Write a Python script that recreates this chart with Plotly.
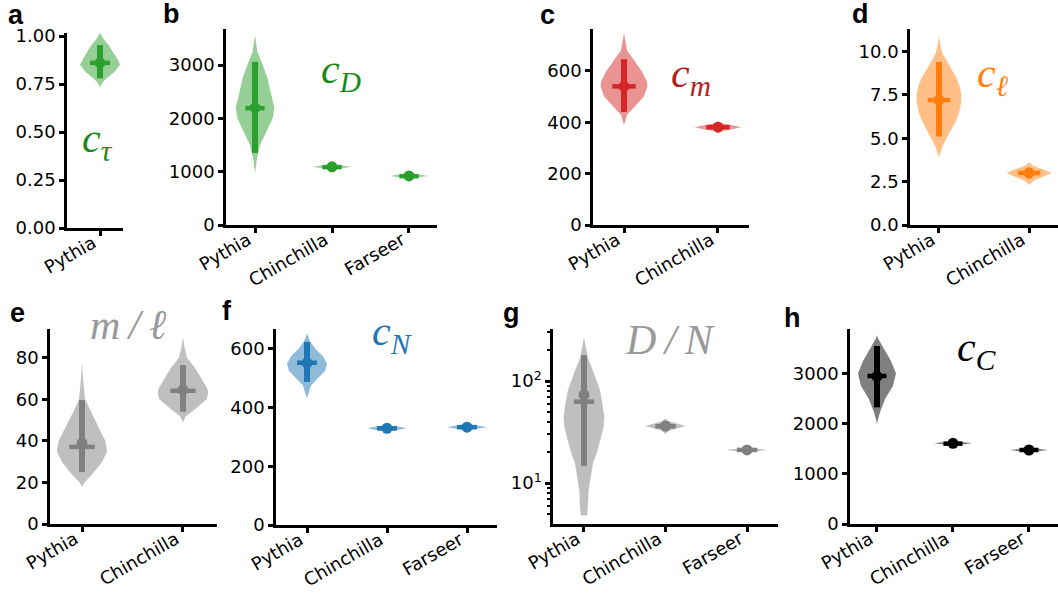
import plotly.graph_objects as go

W, H = 1058, 596

# ---------------- data ----------------
cats3 = ["Pythia", "Chinchilla", "Farseer"]
cats2 = ["Pythia", "Chinchilla"]
cats1 = ["Pythia"]

# violin profiles: value levels and relative half-width (0..1)
a_pythia_lv = [0.73, 0.755, 0.78, 0.815, 0.85, 0.875, 0.90, 0.93, 0.955, 0.98, 1.015]
a_pythia_w = [0, 0.1, 0.33, 0.75, 1.0, 0.9, 0.75, 0.58, 0.42, 0.2, 0]
a_mean = [0.86]; a_median = [0.86]; a_lo = [0.78]; a_hi = [0.953]

b_pythia_lv = [975, 1250, 1500, 1750, 2000, 2200, 2500, 2750, 3000, 3250, 3560]
b_pythia_w = [0, 0.1, 0.26, 0.58, 0.92, 1.0, 0.8, 0.65, 0.4, 0.12, 0]
b_chin_lv = [1025, 1047, 1068, 1090, 1112, 1133, 1155]
b_chin_w = [0, 0.15, 0.6, 1, 0.6, 0.15, 0]
b_fars_lv = [855, 877, 898, 920, 942, 963, 985]
b_fars_w = [0, 0.15, 0.6, 1, 0.6, 0.15, 0]
b_mean = [2200, 1090, 920]; b_median = [2190, 1085, 915]
b_lo = [1350, 1070, 905]; b_hi = [3060, 1110, 935]

c_pythia_lv = [390, 430, 460, 500, 540, 560, 600, 640, 680, 748]
c_pythia_w = [0, 0.13, 0.44, 0.84, 1.0, 0.97, 0.75, 0.44, 0.13, 0]
c_chin_lv = [358, 366, 373, 381, 389, 396, 404]
c_chin_w = [0, 0.15, 0.6, 1, 0.6, 0.15, 0]
c_mean = [540, 381]; c_median = [540, 381]; c_lo = [440, 373]; c_hi = [646, 389]

d_pythia_lv = [3.9, 4.5, 5.0, 5.5, 6.0, 6.5, 7.0, 7.5, 8.0, 8.5, 9.0, 9.4, 9.9, 10.3, 10.9]
d_pythia_w = [0, 0.15, 0.33, 0.55, 0.75, 0.9, 0.98, 1.0, 0.92, 0.77, 0.55, 0.35, 0.15, 0.07, 0]
d_chin_lv = [2.3, 2.55, 2.8, 3.0, 3.2, 3.4, 3.6]
d_chin_w = [0, 0.2, 0.65, 1, 0.65, 0.2, 0]
d_mean = [7.2, 3.0]; d_median = [7.2, 3.0]; d_lo = [5.1, 2.7]; d_hi = [9.4, 3.3]

e_pythia_lv = [17.9, 20, 25, 30, 35, 40, 45, 50, 55, 60, 70, 78]
e_pythia_w = [0, 0.1, 0.48, 0.8, 1.0, 0.92, 0.72, 0.52, 0.3, 0.12, 0.04, 0]
e_chin_lv = [49, 52, 55, 60, 63, 65, 70, 75, 80, 85, 90]
e_chin_w = [0, 0.12, 0.45, 0.94, 1.0, 0.97, 0.73, 0.48, 0.16, 0.06, 0]
e_mean = [38.9, 64.5]; e_median = [37.1, 64.1]; e_lo = [25, 54]; e_hi = [59.6, 76.4]

f_pythia_lv = [431, 450, 475, 500, 525, 550, 575, 600, 625, 652]
f_pythia_w = [0, 0.1, 0.2, 0.56, 0.91, 1.0, 0.79, 0.42, 0.15, 0]
f_chin_lv = [314, 319, 324, 329, 334, 339, 344]
f_chin_w = [0, 0.15, 0.6, 1, 0.6, 0.15, 0]
f_fars_lv = [318, 323, 328, 333, 338, 343, 348]
f_fars_w = [0, 0.15, 0.6, 1, 0.6, 0.15, 0]
f_mean = [552, 329, 333]; f_median = [552, 329, 333]; f_lo = [487, 324, 328]; f_hi = [623, 334, 338]

g_pythia_lv = [4.8, 6, 8.5, 11, 15.6, 20, 26.5, 35, 45, 60, 81, 119, 173, 220, 272]
g_pythia_w = [0.16, 0.2, 0.23, 0.32, 0.44, 0.64, 0.82, 0.96, 1.0, 0.91, 0.79, 0.49, 0.18, 0.08, 0]
g_chin_lv = [30, 32.5, 34.5, 36.2, 38, 40.5, 43]
g_chin_w = [0, 0.15, 0.6, 1, 0.6, 0.15, 0]
g_fars_lv = [19.3, 20, 20.6, 21.1, 21.6, 22.2, 23]
g_fars_w = [0, 0.15, 0.6, 1, 0.6, 0.15, 0]
g_mean = [73, 36.2, 21.1]; g_median = [62.7, 36.0, 21.1]; g_lo = [14.7, 34.5, 20.6]; g_hi = [180, 38, 21.6]

h_pythia_lv = [1972, 2050, 2250, 2500, 2750, 3000, 3250, 3500, 3700, 3764]
h_pythia_w = [0, 0.03, 0.18, 0.44, 0.84, 1.0, 0.73, 0.35, 0.05, 0]
h_chin_lv = [1550, 1570, 1590, 1608, 1626, 1646, 1666]
h_chin_w = [0, 0.15, 0.6, 1, 0.6, 0.15, 0]
h_fars_lv = [1416, 1436, 1456, 1474, 1492, 1512, 1532]
h_fars_w = [0, 0.15, 0.6, 1, 0.6, 0.15, 0]
h_mean = [2940, 1608, 1474]; h_median = [2948, 1600, 1474]; h_lo = [2324, 1590, 1456]; h_hi = [3546, 1626, 1492]

# ---------------- styling ----------------
GREEN, RED, ORANGE, BLUE, GRAY, BLACK = "#2ca02c", "#d62728", "#ff7f0e", "#1f77b4", "#808080", "#000000"
FILLS = {GREEN: "rgba(44,160,44,0.5)", RED: "rgba(214,39,40,0.5)", ORANGE: "rgba(255,127,14,0.5)",
         BLUE: "rgba(31,119,180,0.5)", GRAY: "rgba(128,128,128,0.5)", BLACK: "rgba(0,0,0,0.5)"}

panels = [
    dict(k="a", box=(67, 123, 33, 228), xr=[-0.4125, 0.2875], yr=[0, 1.0156], log=False, cats=cats1,
         v=[(a_pythia_lv, a_pythia_w)], s=(a_mean, a_median, a_lo, a_hi), col=GREEN,
         tv=[0, 0.25, 0.5, 0.75, 1.0], tf=".2f"),
    dict(k="b", box=(226, 437, 29, 225), xr=[-0.377, 2.364], yr=[0, 3675], log=False, cats=cats3,
         v=[(b_pythia_lv, b_pythia_w), (b_chin_lv, b_chin_w), (b_fars_lv, b_fars_w)],
         s=(b_mean, b_median, b_lo, b_hi), col=GREEN, tv=[0, 1000, 2000, 3000], tf="d"),
    dict(k="c", box=(593, 749, 29, 225), xr=[-0.33, 1.33], yr=[0, 763.6], log=False, cats=cats2,
         v=[(c_pythia_lv, c_pythia_w), (c_chin_lv, c_chin_w)],
         s=(c_mean, c_median, c_lo, c_hi), col=RED, tv=[0, 200, 400, 600], tf="d"),
    dict(k="d", box=(910, 1058, 29, 225), xr=[-0.322, 1.322], yr=[0, 11.3], log=False, cats=cats2,
         v=[(d_pythia_lv, d_pythia_w), (d_chin_lv, d_chin_w)],
         s=(d_mean, d_median, d_lo, d_hi), col=ORANGE, tv=[0, 2.5, 5, 7.5, 10], tf=".1f"),
    dict(k="e", box=(50, 217, 329, 524), xr=[-0.317, 1.337], yr=[0, 93.8], log=False, cats=cats2,
         v=[(e_pythia_lv, e_pythia_w), (e_chin_lv, e_chin_w)],
         s=(e_mean, e_median, e_lo, e_hi), col=GRAY, tv=[0, 20, 40, 60, 80], tf="d"),
    dict(k="f", box=(276, 497, 329, 525), xr=[-0.3875, 2.375], yr=[0, 667], log=False, cats=cats3,
         v=[(f_pythia_lv, f_pythia_w), (f_chin_lv, f_chin_w), (f_fars_lv, f_fars_w)],
         s=(f_mean, f_median, f_lo, f_hi), col=BLUE, tv=[0, 200, 400, 600], tf="d"),
    dict(k="g", box=(553, 778, 329, 524), xr=[-0.38, 2.38], yr=[0.598, 2.51], log=True, cats=cats3,
         v=[(g_pythia_lv, g_pythia_w), (g_chin_lv, g_chin_w), (g_fars_lv, g_fars_w)],
         s=(g_mean, g_median, g_lo, g_hi), col=GRAY, tv=[10, 100], tf=None),
    dict(k="h", box=(850, 1058, 329, 524), xr=[-0.355, 2.382], yr=[0, 3884], log=False, cats=cats3,
         v=[(h_pythia_lv, h_pythia_w), (h_chin_lv, h_chin_w), (h_fars_lv, h_fars_w)],
         s=(h_mean, h_median, h_lo, h_hi), col=BLACK, tv=[0, 1000, 2000, 3000], tf="d"),
]

HALF = 0.25       # max violin half-width (category units)
MED_HALF = 0.125  # median bar half-length

fig = go.Figure()
layout = {}
for n, p in enumerate(panels, start=1):
    xa = "x" if n == 1 else f"x{n}"
    ya = "y" if n == 1 else f"y{n}"
    L, R, T, B = p["box"]
    col = p["col"]
    fill = FILLS[col]
    for i, (lv, w) in enumerate(p["v"]):
        xs = [i + HALF * wi for wi in w] + [i - HALF * wi for wi in reversed(w)]
        ys = list(lv) + list(reversed(lv))
        fig.add_trace(go.Scatter(x=xs, y=ys, mode="lines", fill="toself", fillcolor=fill,
                                 line=dict(width=0, color=fill), hoverinfo="skip",
                                 xaxis=xa, yaxis=ya, showlegend=False))
    mean, med, lo, hi = p["s"]
    vx, vy, mx, my = [], [], [], []
    for i in range(len(mean)):
        vx += [i, i, None]; vy += [lo[i], hi[i], None]
        mx += [i - MED_HALF, i + MED_HALF, None]; my += [med[i], med[i], None]
    fig.add_trace(go.Scatter(x=vx, y=vy, mode="lines", line=dict(color=col, width=6),
                             xaxis=xa, yaxis=ya, showlegend=False, hoverinfo="skip"))
    fig.add_trace(go.Scatter(x=mx, y=my, mode="lines", line=dict(color=col, width=4.5),
                             xaxis=xa, yaxis=ya, showlegend=False, hoverinfo="skip"))
    fig.add_trace(go.Scatter(x=list(range(len(mean))), y=mean, mode="markers",
                             marker=dict(color=col, size=11), xaxis=xa, yaxis=ya,
                             showlegend=False, hoverinfo="skip"))
    common = dict(showline=True, linecolor="black", linewidth=2.5, ticks="outside", ticklen=5,
                  tickwidth=2.5, tickcolor="black", showgrid=False, zeroline=False,
                  automargin=False,
                  tickfont=dict(family="DejaVu Sans", size=18, color="black"))
    layout["xaxis" if n == 1 else f"xaxis{n}"] = dict(
        domain=[L / W, R / W], range=p["xr"], anchor=ya, tickmode="array",
        tickvals=list(range(len(p["cats"]))), ticktext=p["cats"], tickangle=-30,
        ticklabelstandoff=-10, ticklabelshift=-7, **common)
    yax = dict(domain=[1 - B / H, 1 - T / H], range=p["yr"], anchor=xa, tickmode="array",
               tickvals=p["tv"], **common)
    if p["log"]:
        yax["type"] = "log"
        yax["ticktext"] = ["10<sup>1</sup>", "10<sup>2</sup>"]
        yax["minor"] = dict(tickmode="array", tickvals=[5, 6, 7, 8, 9, 20, 30, 40, 50, 60, 70, 80, 90, 200, 300],
                            ticks="outside", ticklen=3, tickwidth=1.5, tickcolor="black")
    else:
        yax["tickformat"] = p["tf"]
    layout["yaxis" if n == 1 else f"yaxis{n}"] = yax

letters = [("a", 16, 15), ("b", 171, 14), ("c", 547, 15), ("d", 860, 14),
           ("e", 17, 313), ("f", 227, 311), ("g", 511, 313), ("h", 792, 318)]
ann = []
for t, x, y in letters:
    ann.append(dict(text=f"<b>{t}</b>", x=x / W, y=1 - y / H, xref="paper", yref="paper",
                    xanchor="center", yanchor="middle", showarrow=False,
                    font=dict(family="Liberation Sans", size=27, color="black")))
TS = "\u2009"  # thin space around the math slash
titles = [("<i>c</i><sub><i>τ</i></sub>", 97, 141, "#1a8a1a"),
          ("<i>c</i><sub><i>D</i></sub>", 341, 72, "#1a8a1a"),
          ("<i>c</i><sub><i>m</i></sub>", 691, 76, "#b22222"),
          ("<i>c</i><sub><i>ℓ</i></sub>", 993, 76, ORANGE),
          (f"<i>m{TS}/{TS}ℓ</i>", 128, 325, "#999999"),
          ("<i>c</i><sub><i>N</i></sub>", 392, 334, BLUE),
          (f"<i>D{TS}/{TS}N</i>", 670, 340, "#999999"),
          ("<i>c</i><sub><i>C</i></sub>", 976, 350, "black")]
for t, x, y, c in titles:
    ann.append(dict(text=t, x=x / W, y=1 - y / H, xref="paper", yref="paper",
                    xanchor="center", yanchor="middle", showarrow=False,
                    font=dict(family="Liberation Serif", size=42, color=c)))

fig.update_layout(width=W, height=H, margin=dict(l=0, r=0, t=0, b=0, autoexpand=False),
                  plot_bgcolor="white", paper_bgcolor="white", showlegend=False,
                  annotations=ann, **layout)
fig.write_html("out.html", config={"displayModeBar": False},
               post_script="document.body.style.margin='0px';")
